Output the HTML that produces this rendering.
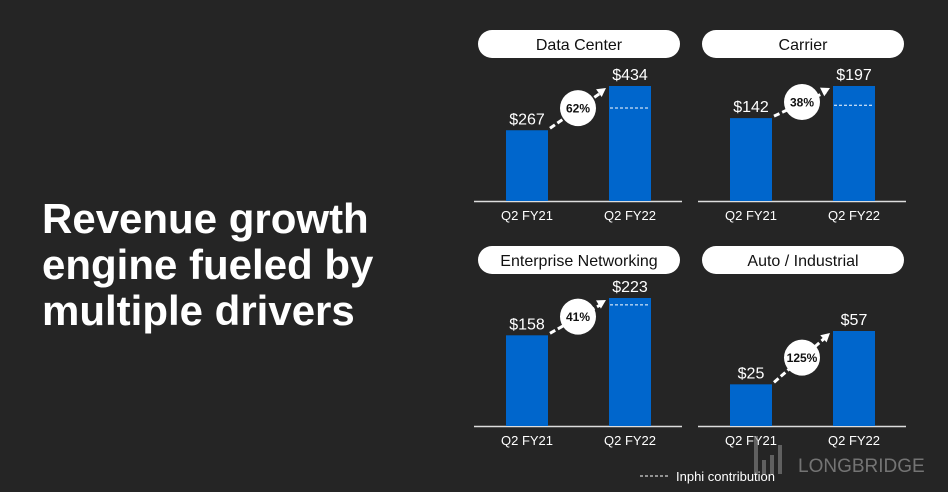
<!DOCTYPE html>
<html><head><meta charset="utf-8"><style>
body{margin:0;width:948px;height:492px;background:#252525;overflow:hidden;font-family:"Liberation Sans",Arial,sans-serif}
#title{position:absolute;left:42px;top:196px;color:#fff;font-weight:bold;font-size:42px;line-height:46px}
svg{position:absolute;left:0;top:0}
</style></head><body>
<div id="title">Revenue growth<br>engine fueled by<br>multiple drivers</div>
<svg id="c" width="948" height="492"></svg>
<script>
const segments=["Data Center","Carrier","Enterprise Networking","Auto / Industrial"];
const periods=["Q2 FY21","Q2 FY22"];
const prevValues=[267,142,158,25];
const currValues=[434,197,223,57];
const growthLabels=["62%","38%","41%","125%"];
const inphiBase=[351,164,211,null];
const NS="http://www.w3.org/2000/svg";
const svg=document.getElementById('c');
function mk(t,a,p){const e=document.createElementNS(NS,t);for(const k in a)e.setAttribute(k,a[k]);(p||svg).appendChild(e);return e;}
const panels=[{x:474,base:201,pill:30},{x:698,base:201,pill:30},{x:474,base:426,pill:246},{x:698,base:426,pill:246}];
const maxH=[115,115,128,95];
segments.forEach((s,i)=>{
  const P=panels[i];const g=mk('g',{});
  
  
  const pill=mk('rect',{x:P.x+4,y:P.pill,width:202,height:28,rx:14,fill:'#fff'},g);
  
  const tt=mk('text',{x:P.x+105,y:P.pill+20,'text-anchor':'middle','font-size':16,fill:'#111'},g);tt.textContent=s;
  
  const bl=mk('line',{x1:P.x,x2:P.x+208,y1:P.base+0.5,y2:P.base+0.5,stroke:'#ddd','stroke-width':1.5},g);
  
  const mx=Math.max(prevValues[i],currValues[i]);
  const y=v=>P.base-v/mx*maxH[i];
  const vals=[prevValues[i],currValues[i]];
  const cx=[P.x+53,P.x+156];
  vals.forEach((v,j)=>{
    const b=mk('rect',{x:cx[j]-21,y:y(v),width:42,height:P.base-y(v),fill:'#0066cc'},g);
    
    const vl=mk('text',{x:cx[j],y:y(v)-6,'text-anchor':'middle','font-size':16,fill:'#fff'},g);vl.textContent='$'+v;
    
    const xl=mk('text',{x:cx[j],y:P.base+19,'text-anchor':'middle','font-size':13,fill:'#fff'},g);xl.textContent=periods[j];
    
  });
  if(inphiBase[i]!=null){
    const d=mk('line',{x1:cx[1]-20,x2:cx[1]+20,y1:y(inphiBase[i]),y2:y(inphiBase[i]),stroke:'#fff','stroke-width':1,'stroke-dasharray':'3,2'},g);
    
  }
  const x1=cx[0]+23,y1=y(vals[0])-2,x2=cx[1]-24,y2=y(vals[1])+2;
  const ar=mk('line',{x1:x1,y1:y1,x2:x2-4,y2:y2+4,stroke:'#fff','stroke-width':3,'stroke-dasharray':'6,3'},g);
  
  const ang=Math.atan2(y2-y1,x2-x1);
  const hp=[[x2,y2],[x2-10*Math.cos(ang-0.5),y2-10*Math.sin(ang-0.5)],[x2-10*Math.cos(ang+0.5),y2-10*Math.sin(ang+0.5)]];
  mk('polygon',{points:hp.map(p=>p.join(',')).join(' '),fill:'#fff'},g);
  const mxp=(x1+x2)/2,myp=(y1+y2)/2;
  const c=mk('circle',{cx:mxp,cy:myp,r:18,fill:'#fff'},g);
  
  const gt=mk('text',{x:mxp,y:myp+4.5,'text-anchor':'middle','font-size':12,'font-weight':'bold',fill:'#111'},g);gt.textContent=growthLabels[i];
  
});
const lg=mk('g',{});
mk('line',{x1:640,x2:668,y1:476,y2:476,stroke:'#fff','stroke-width':1,'stroke-dasharray':'3,2'},lg);
const lt=mk('text',{x:676,y:481,'font-size':13,fill:'#fff'},lg);lt.textContent='Inphi contribution';
const wm=mk('text',{x:798,y:472,'font-size':19,fill:'#888','opacity':0.8},null);wm.textContent='LONGBRIDGE';

[[754,436,4,38],[762,460,4,14],[770,455,4,19],[778,445,4,29]].forEach(r=>mk('rect',{x:r[0],y:r[1],width:r[2],height:r[3],fill:'#888',opacity:0.6}));
</script>
</body></html>
